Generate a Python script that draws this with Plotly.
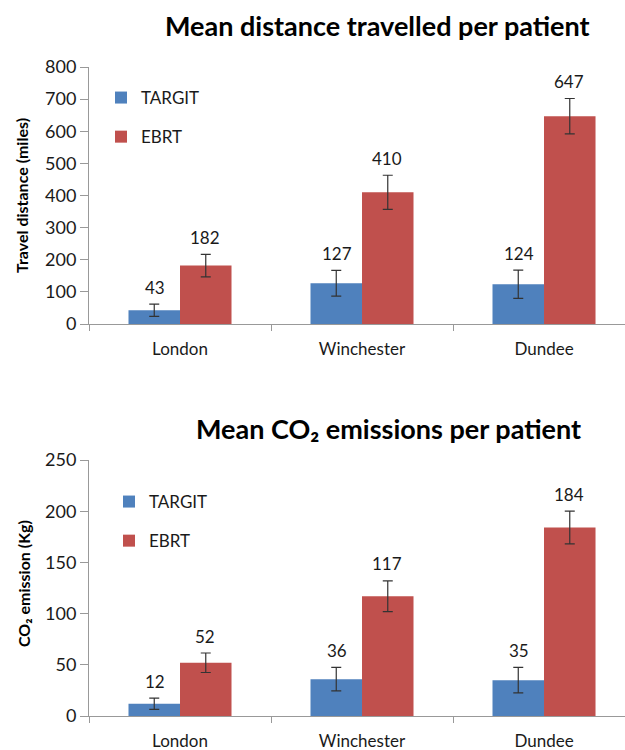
import plotly.graph_objects as go

cities = ["London", "Winchester", "Dundee"]

dist_targit = [43, 127, 124]
dist_targit_err = [19, 40, 44]
dist_ebrt = [182, 410, 647]
dist_ebrt_err = [35, 53, 55]

co2_targit = [12, 36, 35]
co2_targit_err = [5.5, 11.5, 12.5]
co2_ebrt = [52, 117, 184]
co2_ebrt_err = [9.5, 15, 16]

dist_ticks = [0, 100, 200, 300, 400, 500, 600, 700, 800]
co2_ticks = [0, 50, 100, 150, 200, 250]

BLUE = "#4F81BD"
RED = "#C0504D"
FONT = "Lato, 'Open Sans', sans-serif"
TXT = "#1a1a1a"
W, H = 625, 750

fig = go.Figure()

def add_pair(vals_t, err_t, vals_e, err_e, xa, ya, legend):
    for name, vals, err, col in [("TARGIT", vals_t, err_t, BLUE), ("EBRT", vals_e, err_e, RED)]:
        fig.add_trace(go.Bar(
            x=cities, y=vals, name=name, marker=dict(color=col, line=dict(width=0)),
            error_y=dict(type="data", array=err, color="#333333", thickness=1.2, width=5),
            xaxis=xa, yaxis=ya, legend=legend, legendgroup=name + legend,
            hoverinfo="skip",
        ))

add_pair(dist_targit, dist_targit_err, dist_ebrt, dist_ebrt_err, "x", "y", "legend")
add_pair(co2_targit, co2_targit_err, co2_ebrt, co2_ebrt_err, "x2", "y2", "legend2")

annotations = []
OFF = 0.14
def add_labels(vals_t, err_t, vals_e, err_e, xr, yr):
    for i in range(len(cities)):
        for vals, err, sgn in [(vals_t, err_t, -1), (vals_e, err_e, 1)]:
            annotations.append(dict(
                x=i + sgn * OFF, y=vals[i] + err[i], xref=xr, yref=yr,
                text=str(vals[i]), showarrow=False, yanchor="middle", yshift=17,
                font=dict(family=FONT, size=17, color=TXT)))

add_labels(dist_targit, dist_targit_err, dist_ebrt, dist_ebrt_err, "x", "y")
add_labels(co2_targit, co2_targit_err, co2_ebrt, co2_ebrt_err, "x2", "y2")

annotations += [
    dict(x=377 / W, y=1 - 26 / H, xref="paper", yref="paper", xanchor="center", yanchor="middle",
         text="<b>Mean distance travelled per patient</b>", showarrow=False,
         font=dict(family=FONT, size=27, color="black")),
    dict(x=388 / W, y=1 - 429 / H, xref="paper", yref="paper", xanchor="center", yanchor="middle",
         text="<b>Mean CO₂ emissions per patient</b>", showarrow=False,
         font=dict(family=FONT, size=27, color="black")),
    dict(x=22 / W, y=1 - 196 / H, xref="paper", yref="paper", xanchor="center", yanchor="middle",
         text="<b>Travel distance (miles)</b>", textangle=-90, showarrow=False,
         font=dict(family=FONT, size=16, color="black")),
    dict(x=23 / W, y=1 - 584 / H, xref="paper", yref="paper", xanchor="center", yanchor="middle",
         text="<b>CO₂ emission (Kg)</b>", textangle=-90, showarrow=False,
         font=dict(family=FONT, size=16, color="black")),
]

xcommon = dict(type="category", range=[-0.5, 2.445], domain=[89 / W, 1],
               showline=True, linecolor="#999999", linewidth=1,
               ticks="outside", tickson="boundaries", ticklen=6, tickcolor="#999999",
               showgrid=False, zeroline=False, ticklabelstandoff=10, automargin=False,
               tickfont=dict(family=FONT, size=17, color=TXT))
ycommon = dict(showline=True, linecolor="#999999", linewidth=1, ticks="outside", ticklen=8,
               tickcolor="#999999", showgrid=False, zeroline=False, automargin=False,
               tickfont=dict(family=FONT, size=18, color=TXT))

fig.update_layout(
    width=W, height=H, margin=dict(l=0, r=0, t=0, b=0, pad=0, autoexpand=False),
    paper_bgcolor="white", plot_bgcolor="white",
    barmode="group", bargap=0.434, bargroupgap=0,
    showlegend=True,
    xaxis=dict(**xcommon, anchor="y"),
    yaxis=dict(**ycommon, anchor="x", domain=[1 - 324 / H, 1 - 67 / H], range=[0, 800],
               tickvals=dist_ticks),
    xaxis2=dict(**xcommon, anchor="y2"),
    yaxis2=dict(**ycommon, anchor="x2", domain=[1 - 716 / H, 1 - 460 / H], range=[0, 250],
                tickvals=co2_ticks),
    legend=dict(x=101 / W, y=1 - 80 / H, xanchor="left", yanchor="top", tracegroupgap=14,
                bgcolor="rgba(0,0,0,0)", font=dict(family=FONT, size=17, color=TXT)),
    legend2=dict(x=109 / W, y=1 - 484 / H, xanchor="left", yanchor="top", tracegroupgap=14,
                 bgcolor="rgba(0,0,0,0)", font=dict(family=FONT, size=17, color=TXT)),
    annotations=annotations,
)

fig.write_html("out.html", config={"displayModeBar": False},
               post_script="document.body.style.margin='0';")
